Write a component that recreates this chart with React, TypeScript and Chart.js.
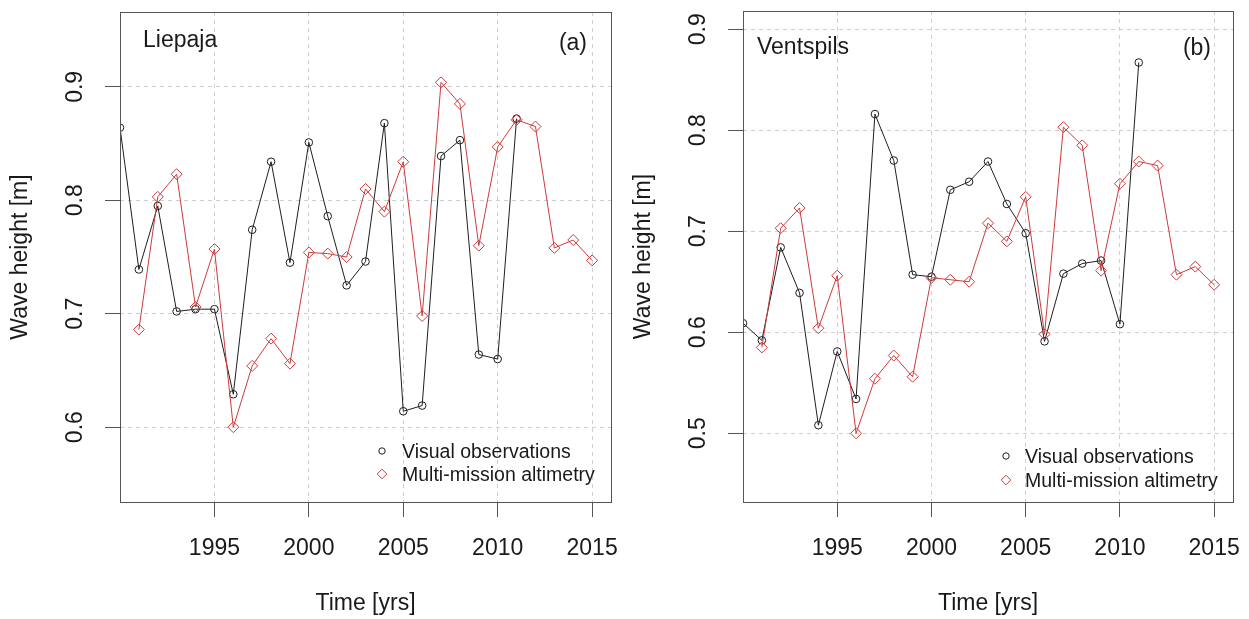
import React, { useEffect, useRef } from "react";
import { Chart, registerables } from "chart.js";

Chart.register(...registerables);

// ---------------- DATA ----------------
const liepajaVisYears = [1990, 1991, 1992, 1993, 1994, 1995, 1996, 1997, 1998, 1999, 2000, 2001, 2002, 2003, 2004, 2005, 2006, 2007, 2008, 2009, 2010, 2011];
const liepajaVis = [0.864, 0.739, 0.795, 0.702, 0.704, 0.704, 0.629, 0.774, 0.834, 0.745, 0.851, 0.786, 0.725, 0.746, 0.868, 0.614, 0.619, 0.839, 0.853, 0.664, 0.660, 0.872];

const liepajaAltYears = [1991, 1992, 1993, 1994, 1995, 1996, 1997, 1998, 1999, 2000, 2001, 2002, 2003, 2004, 2005, 2006, 2007, 2008, 2009, 2010, 2011, 2012, 2013, 2014, 2015];
const liepajaAlt = [0.686, 0.803, 0.823, 0.706, 0.757, 0.600, 0.654, 0.678, 0.656, 0.754, 0.753, 0.750, 0.810, 0.790, 0.834, 0.698, 0.904, 0.885, 0.760, 0.847, 0.871, 0.865, 0.758, 0.765, 0.747];

const ventspilsVisYears = [1990, 1991, 1992, 1993, 1994, 1995, 1996, 1997, 1998, 1999, 2000, 2001, 2002, 2003, 2004, 2005, 2006, 2007, 2008, 2009, 2010, 2011];
const ventspilsVis = [0.609, 0.592, 0.684, 0.639, 0.508, 0.581, 0.534, 0.816, 0.770, 0.657, 0.655, 0.741, 0.749, 0.769, 0.727, 0.698, 0.591, 0.658, 0.668, 0.671, 0.608, 0.867];

const ventspilsAltYears = [1991, 1992, 1993, 1994, 1995, 1996, 1997, 1998, 1999, 2000, 2001, 2002, 2003, 2004, 2005, 2006, 2007, 2008, 2009, 2010, 2011, 2012, 2013, 2014, 2015];
const ventspilsAlt = [0.585, 0.703, 0.723, 0.604, 0.656, 0.500, 0.554, 0.577, 0.556, 0.654, 0.652, 0.650, 0.708, 0.690, 0.734, 0.598, 0.803, 0.785, 0.661, 0.747, 0.769, 0.765, 0.657, 0.665, 0.647];

const xTickValues = [1995, 2000, 2005, 2010, 2015];
const liepajaYTicks = [0.6, 0.7, 0.8, 0.9];
const ventspilsYTicks = [0.5, 0.6, 0.7, 0.8, 0.9];

const seriesNames = ["Visual observations", "Multi-mission altimetry"];
const xTitle = "Time [yrs]";
const yTitle = "Wave height [m]";

// ---------------- STYLE ----------------
const FONT = '"Liberation Sans", Arial, Helvetica, sans-serif';
const BLACK = "#1e1e1e";
const RED = "#cd3a3a";
const AXIS = "#555555";
const GRID = "#cfcfcf";
const TEXT = "#1a1a1a";

type Panel = {
  name: string;
  tag: string;
  visYears: number[];
  vis: number[];
  altYears: number[];
  alt: number[];
  yTicks: number[];
  yMin: number;
  yMax: number;
  left: number;
  width: number;
  yAxisWidth: number;
  pad: { top: number; right: number };
  nameDx: number;
  nameBase: number;
  tagDx: number;
  tagBase: number;
  legSymDx: number;
  legTextDx: number;
  legBase1: number;
  legBase2: number;
};

const panels: Panel[] = [
  {
    name: "Liepaja",
    tag: "(a)",
    visYears: liepajaVisYears,
    vis: liepajaVis,
    altYears: liepajaAltYears,
    alt: liepajaAlt,
    yTicks: liepajaYTicks,
    yMin: 0.534,
    yMax: 0.966,
    left: 0,
    width: 624,
    yAxisWidth: 120,
    pad: { top: 12, right: 13 },
    nameDx: 23,
    nameBase: 35,
    tagDx: 24,
    tagBase: 38,
    legSymDx: 229,
    legTextDx: 209,
    legBase1: 44,
    legBase2: 21,
  },
  {
    name: "Ventspils",
    tag: "(b)",
    visYears: ventspilsVisYears,
    vis: ventspilsVis,
    altYears: ventspilsAltYears,
    alt: ventspilsAlt,
    yTicks: ventspilsYTicks,
    yMin: 0.432,
    yMax: 0.918,
    left: 624,
    width: 625,
    yAxisWidth: 119,
    pad: { top: 11, right: 16 },
    nameDx: 14,
    nameBase: 43,
    tagDx: 22,
    tagBase: 44,
    legSymDx: 227,
    legTextDx: 208,
    legBase1: 39,
    legBase2: 15,
  },
];

const HEIGHT = 619;

function drawCircle(ctx: CanvasRenderingContext2D, x: number, y: number, r: number, color: string) {
  ctx.beginPath();
  ctx.arc(x, y, r, 0, Math.PI * 2);
  ctx.strokeStyle = color;
  ctx.lineWidth = 1;
  ctx.stroke();
}
function drawDiamond(ctx: CanvasRenderingContext2D, x: number, y: number, r: number, color: string) {
  ctx.beginPath();
  ctx.moveTo(x - r, y);
  ctx.lineTo(x, y - r);
  ctx.lineTo(x + r, y);
  ctx.lineTo(x, y + r);
  ctx.closePath();
  ctx.strokeStyle = color;
  ctx.lineWidth = 1;
  ctx.stroke();
}

function PanelChart({ p }: { p: Panel }) {
  const ref = useRef<HTMLCanvasElement | null>(null);
  useEffect(() => {
    if (!ref.current) return;
    const decor = {
      id: "rdecor",
      afterDraw(chart: any) {
        const ctx: CanvasRenderingContext2D = chart.ctx;
        const a = chart.chartArea;
        const xs = chart.scales.x;
        const ys = chart.scales.y;
        ctx.save();
        // box
        ctx.strokeStyle = AXIS;
        ctx.lineWidth = 1;
        ctx.strokeRect(Math.round(a.left) + 0.5, Math.round(a.top) + 0.5, Math.round(a.right - a.left), Math.round(a.bottom - a.top));
        ctx.fillStyle = TEXT;
        // x tick labels
        ctx.font = `23px ${FONT}`;
        ctx.textAlign = "center";
        ctx.textBaseline = "alphabetic";
        for (const v of xTickValues) {
          ctx.fillText(String(v), xs.getPixelForValue(v), a.bottom + 53);
        }
        // x title
        ctx.fillText(xTitle, (a.left + a.right) / 2, a.bottom + 108);
        // y tick labels (rotated)
        for (const v of p.yTicks) {
          ctx.save();
          ctx.translate(a.left - 38.5, ys.getPixelForValue(v));
          ctx.rotate(-Math.PI / 2);
          ctx.fillText(v.toFixed(1), 0, 0);
          ctx.restore();
        }
        // y title
        ctx.save();
        ctx.translate(a.left - 93, (a.top + a.bottom) / 2);
        ctx.rotate(-Math.PI / 2);
        ctx.fillText(yTitle, 0, 0);
        ctx.restore();
        // panel name & tag
        ctx.textAlign = "left";
        ctx.fillText(p.name, a.left + p.nameDx, a.top + p.nameBase);
        ctx.textAlign = "right";
        ctx.fillText(p.tag, a.right - p.tagDx, a.top + p.tagBase);
        // legend
        ctx.font = `19.5px ${FONT}`;
        ctx.textAlign = "left";
        const b1 = a.bottom - p.legBase1;
        const b2 = a.bottom - p.legBase2;
        ctx.fillText(seriesNames[0], a.right - p.legTextDx, b1);
        ctx.fillText(seriesNames[1], a.right - p.legTextDx, b2);
        drawCircle(ctx, a.right - p.legSymDx, b1 - 7, 3.2, BLACK);
        drawDiamond(ctx, a.right - p.legSymDx, b2 - 7, 4.8, RED);
        ctx.restore();
      },
    };

    const chart = new Chart(ref.current, {
      type: "line",
      data: {
        datasets: [
          {
            label: seriesNames[1],
            data: p.altYears.map((yr, i) => ({ x: yr, y: p.alt[i] })),
            borderColor: RED,
            borderWidth: 1,
            pointStyle: "rectRot",
            pointRadius: 5.5,
            pointBorderColor: RED,
            pointBackgroundColor: "rgba(0,0,0,0)",
            pointBorderWidth: 1,
            tension: 0,
            order: 0,
          },
          {
            label: seriesNames[0],
            data: p.visYears.map((yr, i) => ({ x: yr, y: p.vis[i] })),
            borderColor: BLACK,
            borderWidth: 1,
            pointStyle: "circle",
            pointRadius: 3.8,
            pointBorderColor: BLACK,
            pointBackgroundColor: "rgba(0,0,0,0)",
            pointBorderWidth: 1,
            tension: 0,
            order: 1,
          },
        ],
      },
      options: {
        responsive: false,
        maintainAspectRatio: false,
        animation: false,
        devicePixelRatio: 1,
        events: [],
        layout: { padding: { left: 0, top: p.pad.top, right: p.pad.right, bottom: 0 } },
        plugins: { legend: { display: false }, tooltip: { enabled: false } },
        scales: {
          x: {
            type: "linear",
            min: 1990,
            max: 2016,
            afterBuildTicks: (s: any) => {
              s.ticks = xTickValues.map((v) => ({ value: v }));
            },
            afterFit: (s: any) => {
              s.height = 117;
            },
            ticks: { display: false },
            grid: { color: GRID, lineWidth: 1, drawTicks: true, tickLength: 15, tickColor: AXIS, tickWidth: 1 },
            border: { display: false, dash: [4, 4] },
          },
          y: {
            type: "linear",
            min: p.yMin,
            max: p.yMax,
            afterBuildTicks: (s: any) => {
              s.ticks = p.yTicks.map((v) => ({ value: v }));
            },
            afterFit: (s: any) => {
              s.width = p.yAxisWidth;
            },
            ticks: { display: false },
            grid: { color: GRID, lineWidth: 1, drawTicks: true, tickLength: 15, tickColor: AXIS, tickWidth: 1 },
            border: { display: false, dash: [4, 4] },
          },
        },
      },
      plugins: [decor],
    } as any);
    return () => chart.destroy();
  }, [p]);

  return (
    <canvas
      ref={ref}
      width={p.width}
      height={HEIGHT}
      style={{ position: "absolute", left: p.left, top: 0, width: p.width, height: HEIGHT }}
    />
  );
}

export default function App() {
  return (
    <div style={{ position: "absolute", left: 0, top: 0, width: 1249, height: HEIGHT, background: "#ffffff", overflow: "hidden" }}>
      {panels.map((p) => (
        <PanelChart key={p.name} p={p} />
      ))}
    </div>
  );
}
